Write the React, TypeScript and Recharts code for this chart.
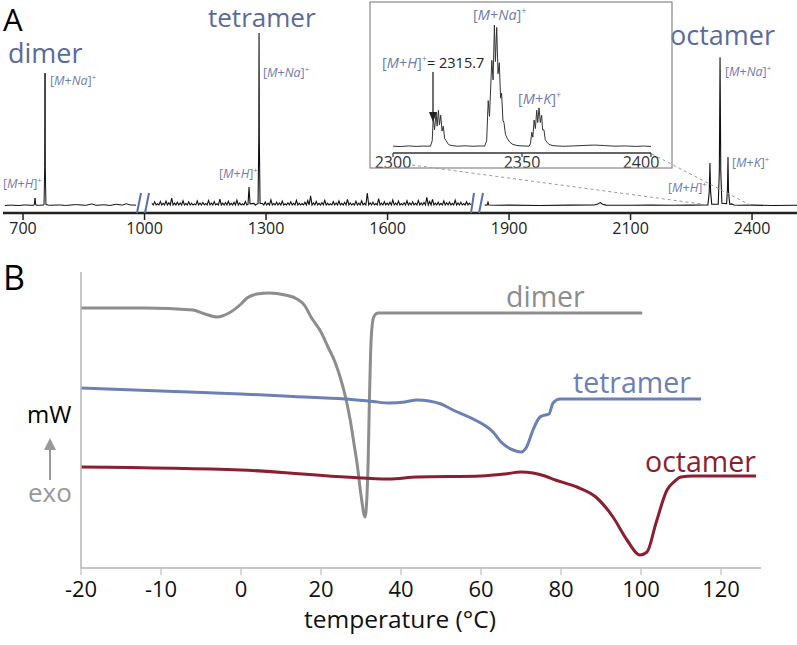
import React from 'react';
import { LineChart, Line, XAxis, YAxis } from 'recharts';

const FONT = "'Open Sans', 'DejaVu Sans', sans-serif";

// ---------- Panel A: MALDI spectrum ----------
const msTickValues = [700, 1000, 1300, 1600, 1900, 2100, 2400];

// segment 1 (left of first axis break): [m/z, intensity]
const seg1Points: number[][] = [
  [655, 0.3], [670, 0.5], [690, 0.3], [705, 0.6], [720, 0.4], [727.5, 0.5], [729.6, 4.6], [731.5, 0.5],
  [740, 0.4], [751.8, 0.6], [753.4, 22], [754.3, 76.8], [755.0, 22], [756.5, 0.8], [765, 0.4], [790, 0.6],
  [805, 0.3], [830, 0.8], [855, 0.4], [870, 1.2], [880, 0.4], [900, 0.7], [915, 0.3], [930, 1.0],
  [945, 0.5], [955, 1.3], [965, 0.6], [979, 0.5],
];

// segment 2 (between the axis breaks): noise spikes read every 7 m/z from 1018,
// sitting on a baseline level seg2Base
const seg2NoiseStart = 1018;
const seg2NoiseStep = 7;
const seg2Base = 0.6;
const seg2Noise = [
  1.6, 2.4, 1.3, 2.6, 1.5, 2.8, 1.9, 4.6, 1.6, 2.2, 1.8, 3.0, 1.4, 2.4, 1.7, 1.2, 2.9, 1.6, 2.1, 1.4,
  3.2, 1.6, 2.5, 1.3, 4.0, 1.6, 2.0, 2.7, 1.5, 2.2, 3.4, 1.8, 1.3, 2.6, 1.6, 2.0, 1.5, 3.0, 1.6, 1.4,
  2.3, 1.7, 3.6, 1.4, 2.2, 1.8, 2.8, 1.3, 1.9, 2.4, 1.5, 3.3, 1.7, 1.4, 2.2, 3.1, 5.8, 1.8, 2.6, 1.5,
  2.0, 3.3, 1.7, 1.3, 2.5, 1.8, 2.9, 1.5, 2.1, 3.8, 1.8, 1.4, 2.7, 1.7, 3.0, 1.5, 7.5, 1.9, 2.2, 1.4,
  4.2, 1.7, 2.5, 1.6, 2.2, 3.5, 1.6, 2.8, 1.4, 1.9, 3.0, 1.8, 2.4, 1.5, 3.2, 1.8, 2.1, 5.0, 2.6, 3.8,
  1.7, 2.2, 1.5, 2.9, 1.9, 2.3, 1.5, 3.4, 1.8, 2.2, 1.4, 2.5, 1.6,
];
const tetramerPeaks: number[][] = [
  [1255.5, 1.0], [1258, 11], [1260.5, 1.2],
  [1280.3, 1.5], [1282.0, 38], [1282.7, 100], [1283.4, 38], [1285.2, 1.5],
];

// segment 3 (right of second axis break)
const seg3Points: number[][] = [
  [1840, 0.5], [1846, 0.6], [1848, 2.2], [1850, 0.6], [1870, 0.4], [1900, 0.5], [1950, 0.3], [2000, 0.5],
  [2040, 0.6], [2046, 1.2], [2050, 2.0], [2054, 1.0], [2060, 0.5], [2100, 0.4], [2150, 0.5], [2200, 0.4],
  [2250, 0.5], [2280, 0.6], [2291, 0.6], [2294.3, 8], [2296, 24.8], [2297.7, 8], [2300.5, 1.0],
  [2316.5, 1.0], [2319.2, 20], [2321, 86], [2322.8, 20], [2325.5, 1.6], [2337.2, 1.4], [2339.3, 10],
  [2340.6, 28.3], [2342, 8], [2345, 1.0], [2350, 1.2], [2355, 0.6], [2370, 0.4], [2400, 0.5],
  [2450, 0.3], [2511, 0.4],
];

// inset: 2300–2400 zoom
const insetTicks = [2300, 2350, 2400];
const insetTrace: number[][] = [
  [2300, 0.6], [2303, 0.3], [2306, 0.8], [2309, 0.4], [2312, 0.7], [2314.5, 0.6],
  [2315.2, 5], [2315.6, 24], [2316.1, 14], [2316.7, 28], [2317.1, 17], [2317.6, 30], [2318.0, 18],
  [2318.5, 26], [2319.0, 13], [2319.5, 17], [2320.0, 7], [2320.6, 5], [2321.5, 2], [2322.5, 1.2],
  [2325, 0.6], [2328, 0.9], [2331, 0.5], [2334, 0.8], [2335.5, 0.6],
  [2336.3, 5], [2336.9, 38], [2337.4, 25], [2338.3, 71], [2338.8, 55], [2339.3, 100], [2339.7, 70],
  [2340.2, 98], [2340.7, 60], [2341.2, 69], [2341.7, 40], [2342.1, 44], [2342.6, 22], [2343.0, 20],
  [2343.6, 10], [2344.3, 7], [2345.2, 4], [2346.5, 2], [2348, 1.2], [2350, 0.8], [2352.8, 0.6],
  [2353.3, 3], [2353.8, 12], [2354.2, 8], [2354.7, 22], [2355.2, 15], [2355.7, 30], [2356.1, 20],
  [2356.6, 32], [2357.1, 20], [2357.6, 26], [2358.0, 14], [2358.5, 14], [2359.0, 6], [2359.6, 4],
  [2360.5, 2], [2362, 1.0], [2366, 0.5], [2370, 0.8], [2374, 1.2], [2378, 1.5], [2382, 1.1],
  [2386, 0.6], [2390, 0.8], [2394, 0.4], [2397, 0.7], [2400, 0.4],
];

// ---------- Panel B: DSC traces [temperature °C, heat flow (a.u.)] ----------
const tempTicks = [-20, -10, 0, 20, 40, 60, 80, 100, 120];
const dimerDSC: number[][] = [
  [-20, 26.0], [-12, 26.0], [-6, 25.8], [-4.5, 25.4], [-3, 25.1], [-1.5, 25.5], [0, 26.4], [1.5, 27.0],
  [4, 27.4], [7, 27.5], [11, 27.3], [14, 26.9], [16, 26.2], [17.5, 25.1], [20, 23.6], [21.75, 22.1],
  [23.5, 20.6], [25, 18.8], [26.3, 16.8], [27.3, 14.8], [28.3, 12.3], [29, 10.5], [30, 7.3], [31, 5.1],
  [31.5, 7.3], [31.8, 10.8], [32.1, 16.8], [32.4, 21.5], [32.8, 24.3], [33.3, 25.2], [34.3, 25.5],
  [40, 25.5], [60, 25.5], [80, 25.5], [100.3, 25.5],
];
const tetramerDSC: number[][] = [
  [-20, 18.0], [-10, 17.7], [0, 17.4], [13, 17.15], [26, 16.9], [33, 16.65], [37, 16.5], [41, 16.6],
  [44, 16.8], [47, 16.7], [50, 16.4], [53, 15.8], [57, 15.1], [60.75, 14.3], [63, 13.6], [65, 12.6],
  [68, 11.8], [70, 11.6], [71.4, 12.1], [73, 13.8], [74.75, 15.1], [76, 15.3], [77, 15.4], [78, 16.5],
  [79.75, 16.9], [85, 16.9], [115, 16.9],
];
const octamerDSC: number[][] = [
  [-20, 10.1], [0, 9.8], [26, 9.1], [37, 8.9], [44, 9.1], [60, 9.2], [66, 9.4], [70, 9.6], [73, 9.5],
  [76, 9.2], [78.6, 8.8], [84, 8.1], [88.7, 7.1], [93, 5.1], [96.5, 2.8], [99.75, 1.3], [101.5, 1.6],
  [103.75, 4.5], [106.5, 7.8], [108.5, 8.7], [110, 9.1], [113, 9.2], [128.75, 9.2],
];

// ---------- helpers ----------
const msPos = (mz: number) => {
  const t = msTickValues;
  for (let i = 0; i < t.length - 1; i++) {
    if (mz <= t[i + 1] || i === t.length - 2) return i + (mz - t[i]) / (t[i + 1] - t[i]);
  }
  return 0;
};
const tempU = (T: number) => (T < 0 ? 2 * T : T);

const buildMain = () => {
  const rows: any[] = [];
  seg1Points.forEach(([m, v]) => rows.push({ x: msPos(m), s1: v }));
  const seg2: number[][] = [];
  seg2Noise.forEach((v, i) => {
    const m = seg2NoiseStart + i * seg2NoiseStep;
    const clash = tetramerPeaks.some(([pm]) => Math.abs(pm - m) < 3.6);
    if (!clash) {
      seg2.push([m, v]);
      seg2.push([m + seg2NoiseStep / 2, seg2Base]);
    }
  });
  tetramerPeaks.forEach((p) => seg2.push(p));
  seg2.sort((a, b) => a[0] - b[0]);
  seg2.forEach(([m, v]) => rows.push({ x: msPos(m), s2: v }));
  seg3Points.forEach(([m, v]) => rows.push({ x: msPos(m), s3: v }));
  return rows.sort((a, b) => a.x - b.x);
};
const mainData = buildMain();
const insetData = insetTrace.map(([m, v]) => ({ x: m, v }));

const buildDSC = () => {
  const rows: any[] = [];
  dimerDSC.forEach(([T, v]) => rows.push({ x: tempU(T), dimer: v }));
  tetramerDSC.forEach(([T, v]) => rows.push({ x: tempU(T), tetramer: v }));
  octamerDSC.forEach(([T, v]) => rows.push({ x: tempU(T), octamer: v }));
  return rows.sort((a, b) => a.x - b.x);
};
const dscData = buildDSC();

const LABEL_BLUE = '#6f7cab';
const TITLE_BLUE = '#5b6a9c';

const Ion = ({ x, y, ion, size, suffix }: any) => (
  <text x={x} y={y} fontSize={size} fill={LABEL_BLUE} fontFamily={FONT}>
    <tspan>[</tspan>
    <tspan fontStyle="italic">M</tspan>
    <tspan>+</tspan>
    <tspan fontStyle="italic">{ion}</tspan>
    <tspan>]</tspan>
    <tspan dy={-size * 0.38} fontSize={size * 0.62}>+</tspan>
    {suffix ? (
      <tspan dy={size * 0.38} fill="#222">{suffix}</tspan>
    ) : null}
  </text>
);

const InsetTick = (props: any) => {
  const { x, y, payload } = props;
  const shift = payload.value === 2400 ? -10 : 0;
  return (
    <text x={x + shift} y={y + 11} textAnchor="middle" fontSize={16} fill="#333" fontFamily={FONT}>
      {payload.value}
    </text>
  );
};

const abs: React.CSSProperties = { position: 'absolute', left: 0, top: 0 };

export default function App() {
  return (
    <div style={{ position: 'absolute', left: 0, top: 0, width: 797, height: 645, background: '#fff', fontFamily: FONT }}>
      {/* main spectrum */}
      <div style={abs}>
        <LineChart width={797} height={645} data={mainData} margin={{ top: 33, left: 3, right: 0, bottom: 402 }}>
          <XAxis
            dataKey="x"
            type="number"
            domain={[-0.165, 6.37]}
            allowDataOverflow
            ticks={[0, 1, 2, 3, 4, 5, 6]}
            tickFormatter={(i: number) => String(msTickValues[i])}
            height={30}
            tickSize={7}
            tickMargin={3}
            axisLine={{ stroke: '#222', strokeWidth: 2.5 }}
            tickLine={{ stroke: '#222', strokeWidth: 1.5 }}
            tick={{ fontSize: 16, fill: '#222', fontFamily: FONT }}
          />
          <YAxis hide domain={[-4.05, 100]} allowDataOverflow />
          <Line dataKey="s1" stroke="#111" strokeWidth={1} dot={false} connectNulls isAnimationActive={false} type="linear" />
          <Line dataKey="s2" stroke="#111" strokeWidth={1.1} dot={false} connectNulls isAnimationActive={false} type="linear" />
          <Line dataKey="s3" stroke="#111" strokeWidth={1.1} dot={false} connectNulls isAnimationActive={false} type="linear" />
        </LineChart>
      </div>

      {/* inset */}
      <div style={abs}>
        <LineChart width={797} height={645} data={insetData} margin={{ top: 25, left: 393, right: 146, bottom: 472 }}>
          <XAxis
            dataKey="x"
            type="number"
            domain={[2300, 2400]}
            ticks={insetTicks}
            height={20}
            tickSize={4}
            tickMargin={0}
            axisLine={{ stroke: '#333', strokeWidth: 1.5 }}
            tickLine={{ stroke: '#333', strokeWidth: 1.2 }}
            tick={<InsetTick />}
          />
          <YAxis hide domain={[-5, 100]} allowDataOverflow />
          <Line dataKey="v" stroke="#333" strokeWidth={1} dot={false} isAnimationActive={false} type="linear" />
        </LineChart>
      </div>

      {/* DSC */}
      <div style={abs}>
        <LineChart width={797} height={645} data={dscData} margin={{ top: 272, left: 80, right: 36, bottom: 17 }}>
          <XAxis
            dataKey="x"
            type="number"
            domain={[-40, 130]}
            ticks={tempTicks.map(tempU)}
            tickFormatter={(u: number) => String(u < 0 ? u / 2 : u)}
            height={60}
            tickSize={7}
            tickMargin={6}
            axisLine={{ stroke: '#b5b5b5', strokeWidth: 1.5 }}
            tickLine={{ stroke: '#c0c0c0', strokeWidth: 1.2 }}
            tick={{ fontSize: 22, fill: '#111', fontFamily: FONT }}
          />
          <YAxis
            domain={[0, 29.6]}
            width={1}
            tick={false}
            tickLine={false}
            axisLine={{ stroke: '#b5b5b5', strokeWidth: 1.5 }}
          />
          <Line dataKey="dimer" stroke="#8d8d8d" strokeWidth={3} dot={false} connectNulls isAnimationActive={false} type="monotone" />
          <Line dataKey="tetramer" stroke="#6c80b4" strokeWidth={3} dot={false} connectNulls isAnimationActive={false} type="monotone" />
          <Line dataKey="octamer" stroke="#8b1f31" strokeWidth={3} dot={false} connectNulls isAnimationActive={false} type="monotone" />
        </LineChart>
      </div>

      {/* annotations */}
      <svg width={797} height={645} style={{ ...abs, pointerEvents: 'none' }}>
        {/* panel A */}
        <text x={3} y={31} fontSize={31} fill="#000" fontFamily={FONT}>A</text>
        <text x={8} y={63} fontSize={27} fill={TITLE_BLUE} fontFamily={FONT}>dimer</text>
        <text x={208} y={27} fontSize={26} fill={TITLE_BLUE} fontFamily={FONT}>tetramer</text>
        <text x={670} y={45} fontSize={27} fill={TITLE_BLUE} fontFamily={FONT}>octamer</text>

        <Ion x={50} y={85} ion="Na" size={12.5} />
        <Ion x={3} y={188} ion="H" size={12.5} />
        <Ion x={263} y={77} ion="Na" size={12.5} />
        <Ion x={219} y={178} ion="H" size={12.5} />
        <Ion x={725} y={76} ion="Na" size={12.5} />
        <Ion x={732} y={167} ion="K" size={12.5} />
        <Ion x={668} y={192} ion="H" size={12.5} />

        {/* axis breaks */}
        <g stroke="#5a6fa8" strokeWidth={2}>
          <line x1={137} y1={213} x2={141} y2={193} />
          <line x1={145} y1={213} x2={149} y2={193} />
          <line x1={471} y1={213} x2={474} y2={193} />
          <line x1={479} y1={213} x2={483} y2={193} />
        </g>

        {/* inset frame and labels */}
        <rect x={370} y={2} width={302} height={166} fill="none" stroke="#888" strokeWidth={1.2} />
        <Ion x={473} y={20} ion="Na" size={14.5} />
        <Ion x={382} y={68} ion="H" size={14.5} suffix="= 2315.7" />
        <Ion x={518} y={104} ion="K" size={14.5} />
        <line x1={433} y1={72} x2={433} y2={113} stroke="#222" strokeWidth={1.3} />
        <polygon points="429,112 437,112 433,122" fill="#222" />
        <g stroke="#999" strokeWidth={1} strokeDasharray="3 3">
          <line x1={412} y1={165} x2={709} y2={205} />
          <line x1={652} y1={154} x2={752} y2={206} />
        </g>

        {/* panel B */}
        <text x={3} y={290} fontSize={34} fill="#000" fontFamily={FONT}>B</text>
        <text x={506} y={307} fontSize={28.5} fill="#8d8d8d" fontFamily={FONT}>dimer</text>
        <text x={573} y={393} fontSize={28.5} fill="#6c80b4" fontFamily={FONT}>tetramer</text>
        <text x={645} y={472} fontSize={28.5} fill="#8b1f31" fontFamily={FONT}>octamer</text>
        <text x={27} y={423} fontSize={24} fill="#000" fontFamily={FONT}>mW</text>
        <line x1={50} y1={480} x2={50} y2={448} stroke="#999" strokeWidth={2} />
        <polygon points="44,450 56,450 50,438" fill="#999" />
        <text x={28} y={502} fontSize={26} fill="#999" fontFamily={FONT}>exo</text>
        <text x={400} y={628} fontSize={24.5} fill="#111" textAnchor="middle" fontFamily={FONT}>temperature (°C)</text>
      </svg>
    </div>
  );
}
